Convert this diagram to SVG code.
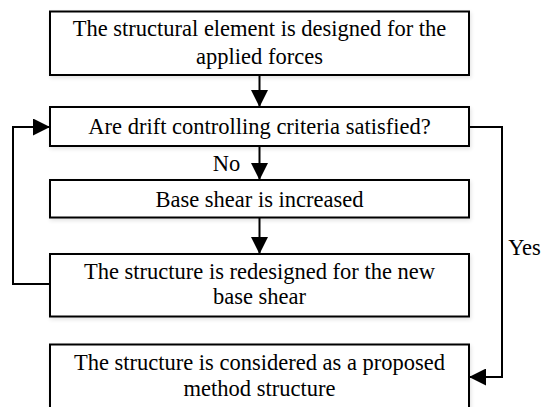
<svg xmlns="http://www.w3.org/2000/svg" width="542" height="407" viewBox="0 0 542 407">
<style>
.box{fill:#fff;stroke:#000;stroke-width:2}
.t{font-family:"Liberation Serif","Times New Roman",serif;font-size:22.5px;fill:#000;text-anchor:middle}
.c{fill:none;stroke:#000;stroke-width:2}
</style>
<defs>
<filter id="sh" x="-5%" y="-20%" width="110%" height="140%">
<feGaussianBlur in="SourceAlpha" stdDeviation="2"/>
<feOffset dx="1" dy="2"/>
<feComponentTransfer><feFuncA type="linear" slope="0.12"/></feComponentTransfer>
<feMerge><feMergeNode/><feMergeNode in="SourceGraphic"/></feMerge>
</filter>
<marker id="ah" viewBox="0 0 17 17" refX="17" refY="8.5" markerWidth="17" markerHeight="17" markerUnits="userSpaceOnUse" orient="auto">
<path d="M0,0 L17,8.5 L0,17 Z" fill="#000"/>
</marker>
</defs>
<rect width="542" height="407" fill="#fff"/>
<g id="n1"><rect class="box" filter="url(#sh)" x="50" y="11.5" width="419" height="63.5"/>
<text class="t" x="259.5" y="36">The structural element is designed for the</text>
<text class="t" x="259.5" y="64">applied forces</text></g>
<g id="n2"><rect class="box" filter="url(#sh)" x="50" y="107" width="419" height="39"/>
<text class="t" x="259.5" y="134">Are drift controlling criteria satisfied?</text></g>
<g id="n3"><rect class="box" filter="url(#sh)" x="50" y="180" width="419" height="37.5"/>
<text class="t" x="259.5" y="207">Base shear is increased</text></g>
<g id="n4"><rect class="box" filter="url(#sh)" x="50" y="254" width="419" height="62.5"/>
<text class="t" x="259.5" y="279">The structure is redesigned for the new</text>
<text class="t" x="259.5" y="304">base shear</text></g>
<g id="n5"><rect class="box" filter="url(#sh)" x="50" y="344.5" width="419" height="70"/>
<text class="t" x="259.5" y="370">The structure is considered as a proposed</text>
<text class="t" x="259.5" y="396">method structure</text></g>
<g id="connectors">
<line class="c" x1="259.5" y1="75" x2="259.5" y2="107" marker-end="url(#ah)"/>
<line class="c" x1="259.5" y1="146" x2="259.5" y2="180" marker-end="url(#ah)"/>
<line class="c" x1="259.5" y1="217.5" x2="259.5" y2="254" marker-end="url(#ah)"/>
<polyline class="c" points="50,284 13,284 13,127 50,127" marker-end="url(#ah)"/>
<polyline class="c" points="469,127 502,127 502,377 469,377" marker-end="url(#ah)"/>
<text class="t" x="226.5" y="171">No</text>
<text class="t" x="524.5" y="255">Yes</text>
</g>
</svg>
